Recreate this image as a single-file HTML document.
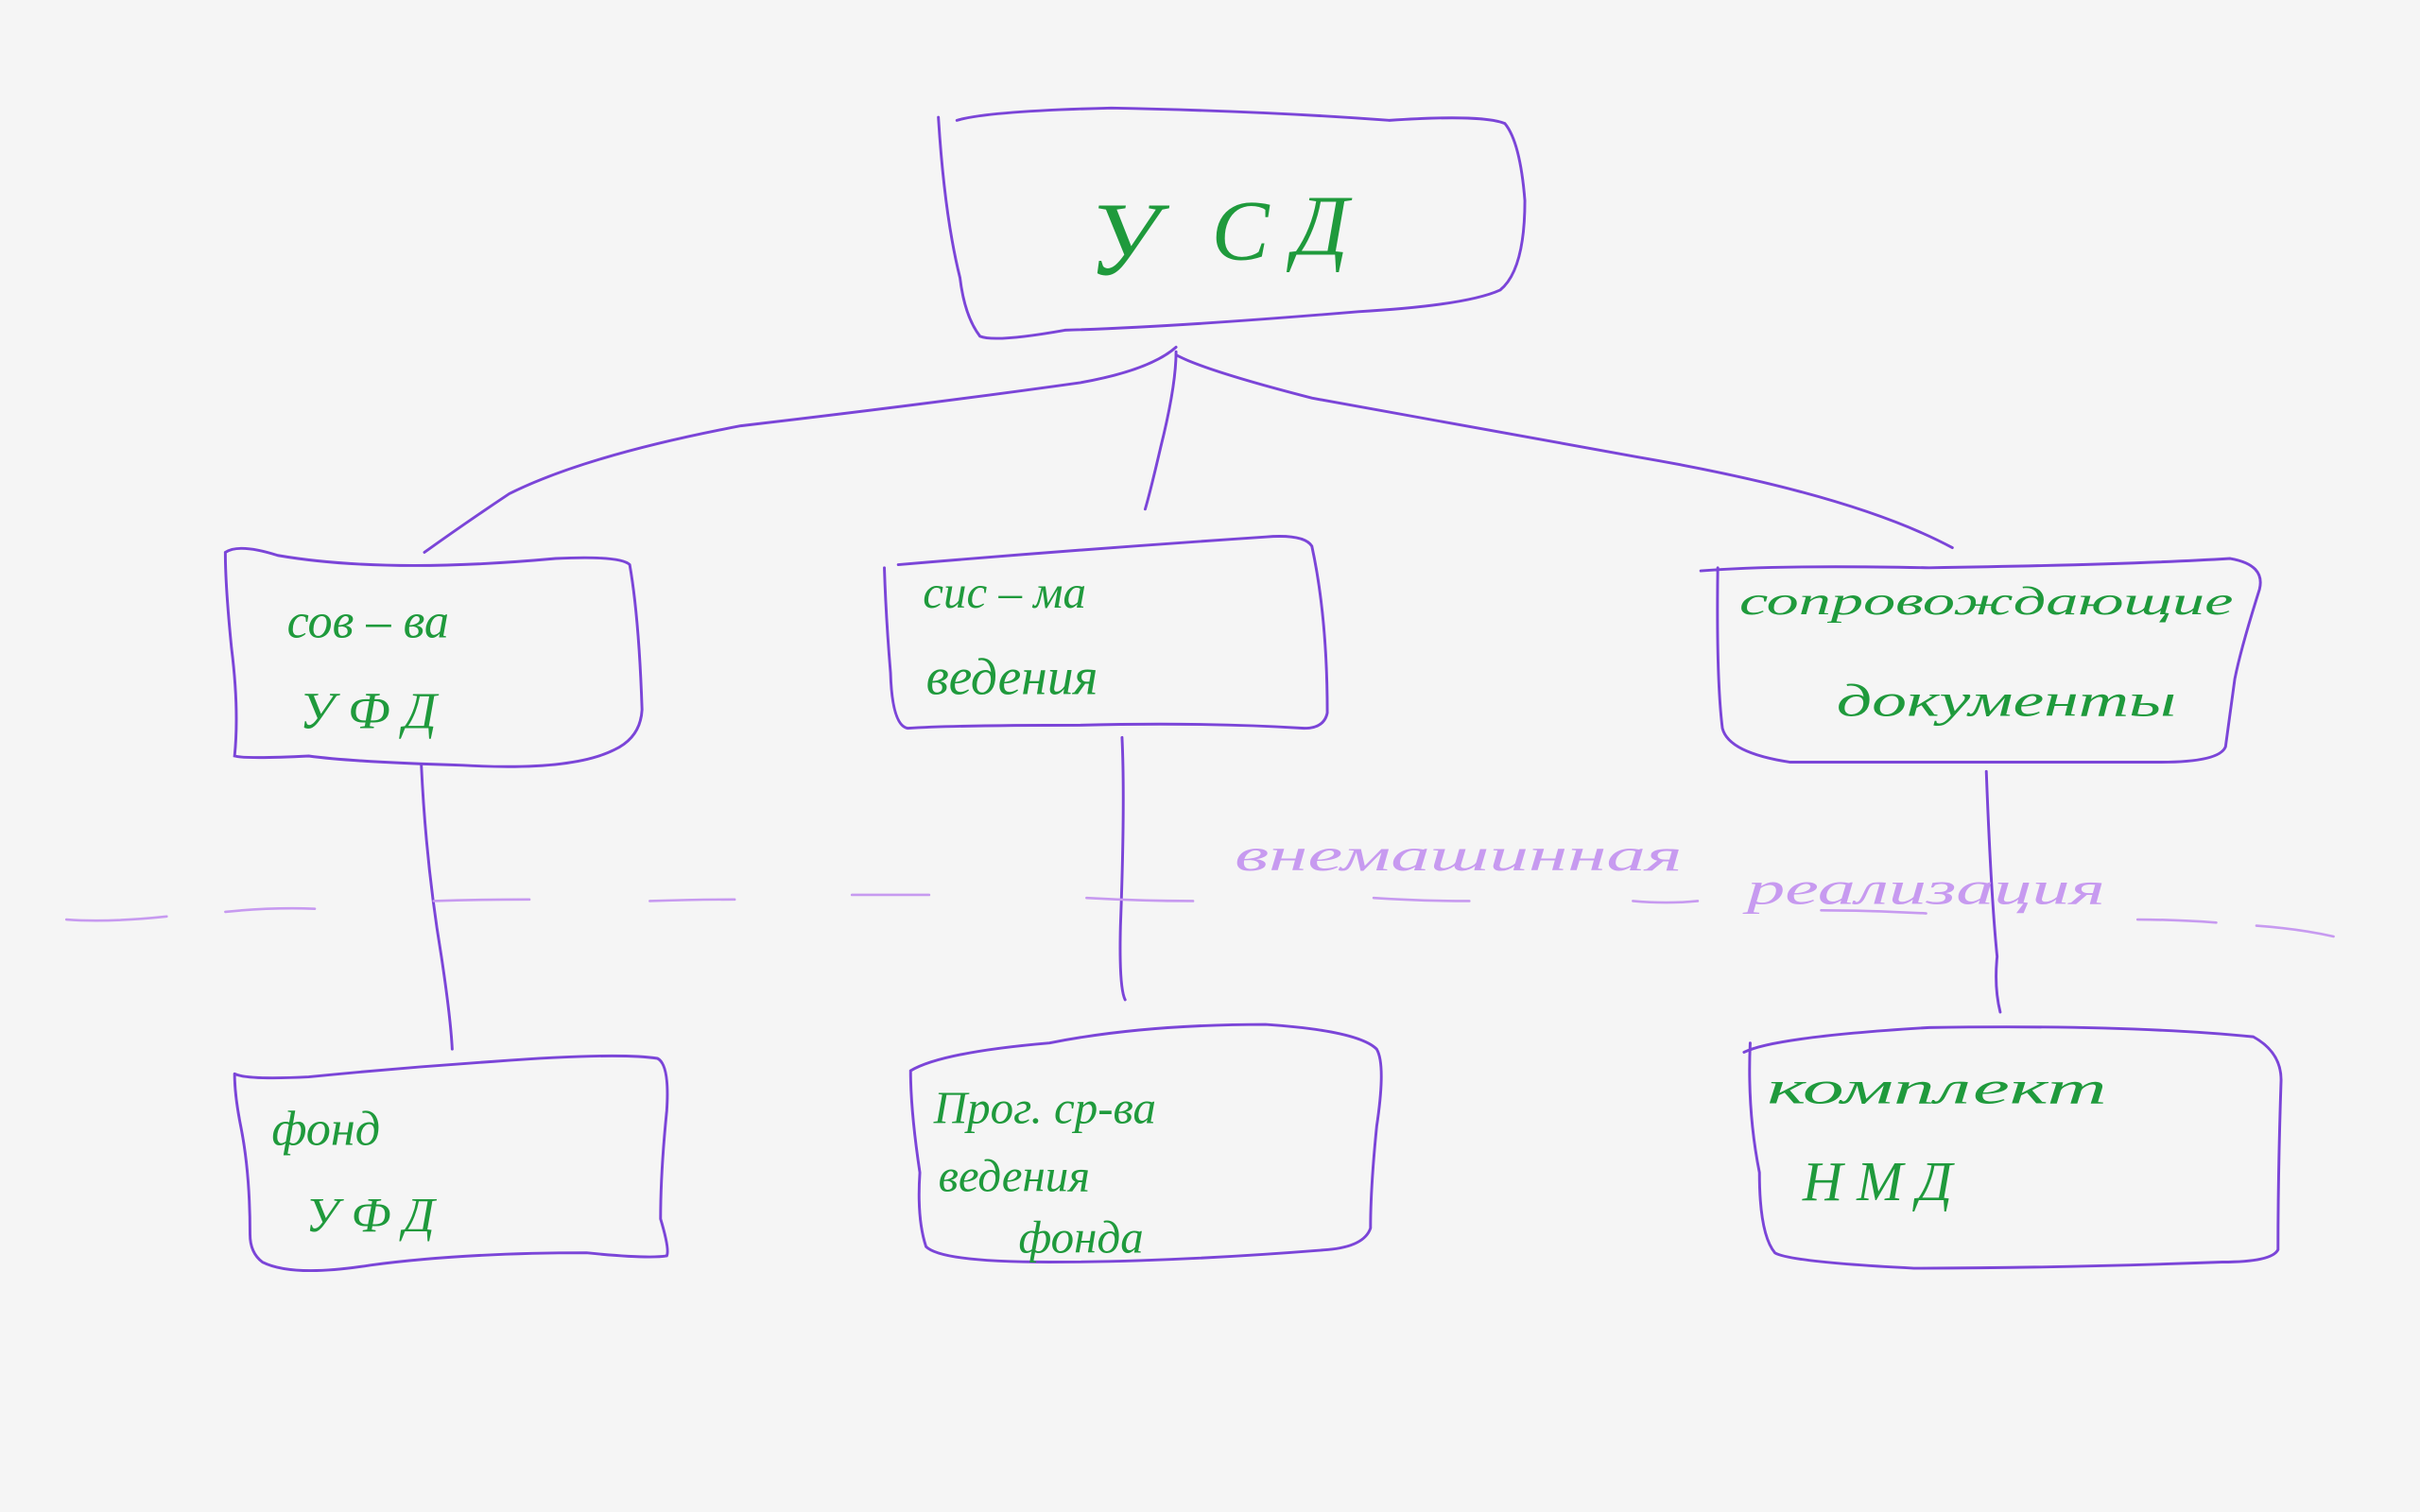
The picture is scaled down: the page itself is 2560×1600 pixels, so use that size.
<!DOCTYPE html>
<html><head><meta charset="utf-8"><style>
html,body{margin:0;padding:0;background:#f5f5f5;}
svg{display:block;}
text{font-family:"Liberation Serif","DejaVu Serif",serif;font-style:italic;fill:#1f9a3c;}
.l{fill:#c79af0;}
</style></head><body>
<svg width="2560" height="1600" viewBox="0 0 1568 980" xmlns="http://www.w3.org/2000/svg">
<rect width="1568" height="980" fill="#f5f5f5"/>
<g fill="none" stroke="#7b45d8" stroke-width="1.8" stroke-linecap="round">
<path d="M620,78 Q640,72 720,70 Q820,72 900,78 Q960,74 975,80 Q985,92 988,130 Q988,175 972,188 Q950,198 880,202 Q760,212 690,214 Q645,222 635,218 Q625,205 622,180 Q612,140 608,76"/>
<path d="M762,225 Q745,240 700,248 Q600,262 480,276 Q380,295 330,320 Q300,340 275,358"/>
<path d="M762,228 Q762,250 752,290 Q745,320 742,330"/>
<path d="M762,230 Q780,240 850,258 Q950,276 1060,296 Q1200,320 1265,355"/>
<path d="M146,358 Q155,352 180,360 Q250,372 360,362 Q402,360 408,366 Q414,400 416,460 Q415,478 398,486 Q370,500 300,496 Q230,494 200,490 Q160,492 152,490 Q155,460 150,420 Q146,380 146,358"/>
<path d="M582,366 Q700,356 820,348 Q845,346 850,354 Q860,400 860,462 Q858,472 845,472 Q780,468 700,470 Q620,470 588,472 Q578,470 577,436 Q574,400 573,368"/>
<path d="M1102,370 Q1150,366 1250,368 Q1380,366 1445,362 Q1468,366 1464,382 Q1452,420 1448,440 Q1444,470 1442,484 Q1438,494 1400,494 Q1280,494 1160,494 Q1120,488 1116,472 Q1112,440 1113,368"/>
<path d="M273,496 Q276,560 286,620 Q292,660 293,680"/>
<path d="M727,478 Q729,520 726,600 Q725,640 729,648"/>
<path d="M1287,500 Q1290,580 1294,620 Q1292,640 1296,656"/>
<path d="M152,696 Q160,700 200,698 Q260,692 320,688 Q400,682 426,686 Q434,690 432,720 Q428,760 428,790 Q434,810 432,814 Q420,816 380,812 Q300,812 240,820 Q190,828 170,818 Q162,812 162,800 Q162,760 156,730 Q152,710 152,696"/>
<path d="M590,694 Q610,682 680,676 Q740,664 820,664 Q880,668 892,680 Q898,690 892,730 Q888,770 888,796 Q884,808 860,810 Q760,818 680,818 Q610,818 600,808 Q594,790 596,760 Q590,720 590,694"/>
<path d="M1130,682 Q1150,672 1250,666 Q1380,664 1460,672 Q1478,682 1478,700 Q1476,760 1476,810 Q1472,818 1440,818 Q1330,822 1240,822 Q1160,818 1150,812 Q1140,800 1140,760 Q1132,720 1134,676"/>
</g>
<g fill="none" stroke="#c79af0" stroke-width="1.6" stroke-linecap="round">
<path d="M43,596 Q70,598 108,594"/>
<path d="M146,591 Q175,588 204,589"/>
<path d="M281,584 Q310,583 343,583"/>
<path d="M421,584 Q450,583 476,583"/>
<path d="M552,580 Q580,580 602,580"/>
<path d="M704,582 Q740,584 773,584"/>
<path d="M890,582 Q920,584 952,584"/>
<path d="M1058,584 Q1080,586 1100,584"/>
<path d="M1180,590 Q1210,590 1248,592"/>
<path d="M1385,596 Q1410,596 1436,598"/>
<path d="M1462,600 Q1490,602 1512,607"/>
</g>
<text x="705" y="178" font-size="68">У</text>
<text x="785" y="168" font-size="56">С</text>
<text x="838" y="165" font-size="56">Д</text>
<text x="186" y="413" font-size="32">сов – ва</text>
<text x="194" y="472" font-size="34">У  Ф  Д</text>
<text x="598" y="394" font-size="30">сис – ма</text>
<text x="600" y="450" font-size="34">ведения</text>
<text x="1127" y="398" font-size="26" textLength="320" lengthAdjust="spacingAndGlyphs">сопровождающие</text>
<text x="1190" y="464" font-size="30" textLength="220" lengthAdjust="spacingAndGlyphs">документы</text>
<text class="l" x="800" y="564" font-size="30" textLength="290" lengthAdjust="spacingAndGlyphs">внемашинная</text>
<text class="l" x="1132" y="586" font-size="30" textLength="232" lengthAdjust="spacingAndGlyphs">реализация</text>
<text x="176" y="742" font-size="32">фонд</text>
<text x="198" y="798" font-size="32">У Ф Д</text>
<text x="605" y="728" font-size="30">Прог. ср-ва</text>
<text x="608" y="772" font-size="30">ведения</text>
<text x="660" y="812" font-size="30">фонда</text>
<text x="1145" y="715" font-size="30" textLength="220" lengthAdjust="spacingAndGlyphs">комплект</text>
<text x="1168" y="778" font-size="36">Н М Д</text>
</svg>
</body></html>
